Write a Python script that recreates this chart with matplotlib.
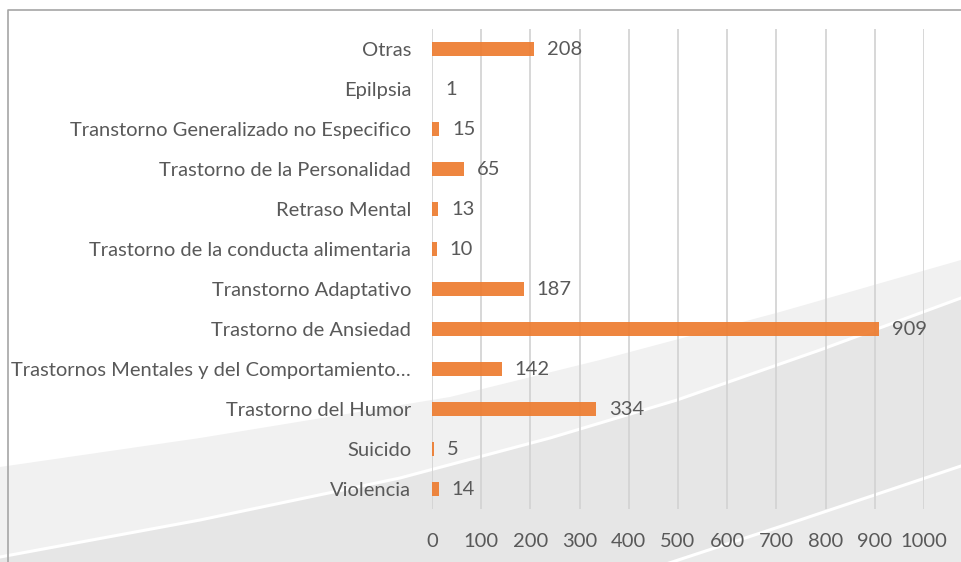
import matplotlib
matplotlib.use("Agg")
import matplotlib.pyplot as plt
from matplotlib.patches import Polygon
import numpy as np

categories = [
    "Otras",
    "Epilpsia",
    "Transtorno Generalizado no Especifico",
    "Trastorno de la Personalidad",
    "Retraso Mental",
    "Trastorno de la conducta alimentaria",
    "Transtorno Adaptativo",
    "Trastorno de Ansiedad",
    "Trastornos Mentales y del Comportamiento\u2026",
    "Trastorno del Humor",
    "Suicido",
    "Violencia",
]
values = [208, 1, 15, 65, 13, 10, 187, 909, 142, 334, 5, 14]
xticks = [0, 100, 200, 300, 400, 500, 600, 700, 800, 900, 1000]

W, H = 961, 562
FONT = ["Lato", "DejaVu Sans"]
TXT = "#595959"
BAR = "#ED7D31"
FS = 14.5

fig = plt.figure(figsize=(W / 100, H / 100), dpi=100)
fig.patch.set_facecolor("white")

# background decoration axes in pixel coordinates (y downward)
bg = fig.add_axes([0, 0, 1, 1], zorder=-1)
bg.set_xlim(0, W)
bg.set_ylim(H, 0)
bg.axis("off")

upper = [(0, 467), (200, 438), (450, 397), (600, 360), (780, 312), (961, 260)]
bg.add_patch(Polygon(upper + [(961, 562), (0, 562)], closed=True,
                     facecolor="#F1F1F1", edgecolor="none"))
wline = [(0, 557), (200, 520), (400, 478), (550, 438), (677, 400), (820, 350), (961, 298)]
bg.add_patch(Polygon(wline + [(961, 562), (0, 562)], closed=True,
                     facecolor="#E6E6E6", edgecolor="none"))
bg.plot([p[0] for p in wline], [p[1] for p in wline], color="white", lw=2.2)
w2 = [(660, 566), (800, 520), (961, 466)]
bg.add_patch(Polygon(w2 + [(961, 562)], closed=True,
                     facecolor="#EAEAEA", edgecolor="none"))
bg.plot([p[0] for p in w2], [p[1] for p in w2], color="white", lw=2.2)
# frame
bg.plot([8, 8, 961], [562, 10, 10], color="#A6A6A6", lw=1.2)

ax = fig.add_axes([432 / W, 1 - 509 / H, (924 - 432) / W, (509 - 29) / H], zorder=1)
ax.patch.set_alpha(0)

y = np.arange(len(categories))
ax.barh(y, values, height=0.36, color=BAR, alpha=0.93, zorder=3)
for yi, v in zip(y, values):
    ax.text(v + 26, yi, str(v), va="center", ha="left", fontsize=FS,
            color=TXT, family=FONT, zorder=4)

ax.set_xlim(0, 1000)
ax.set_ylim(len(categories) - 0.5, -0.5)
ax.set_xticks(xticks)
ax.set_xticklabels([str(t) for t in xticks], family=FONT, fontsize=FS, color=TXT)
ax.set_yticks(y)
ax.set_yticklabels(categories, family=FONT, fontsize=FS, color=TXT)
ax.tick_params(axis="both", length=0)
ax.tick_params(axis="y", pad=15)
ax.tick_params(axis="x", pad=17)
ax.grid(axis="x", color="#D4D4D4", lw=1.3, zorder=1)
ax.set_axisbelow(True)
for s in ax.spines.values():
    s.set_visible(False)

fig.savefig("out.png", dpi=100)
